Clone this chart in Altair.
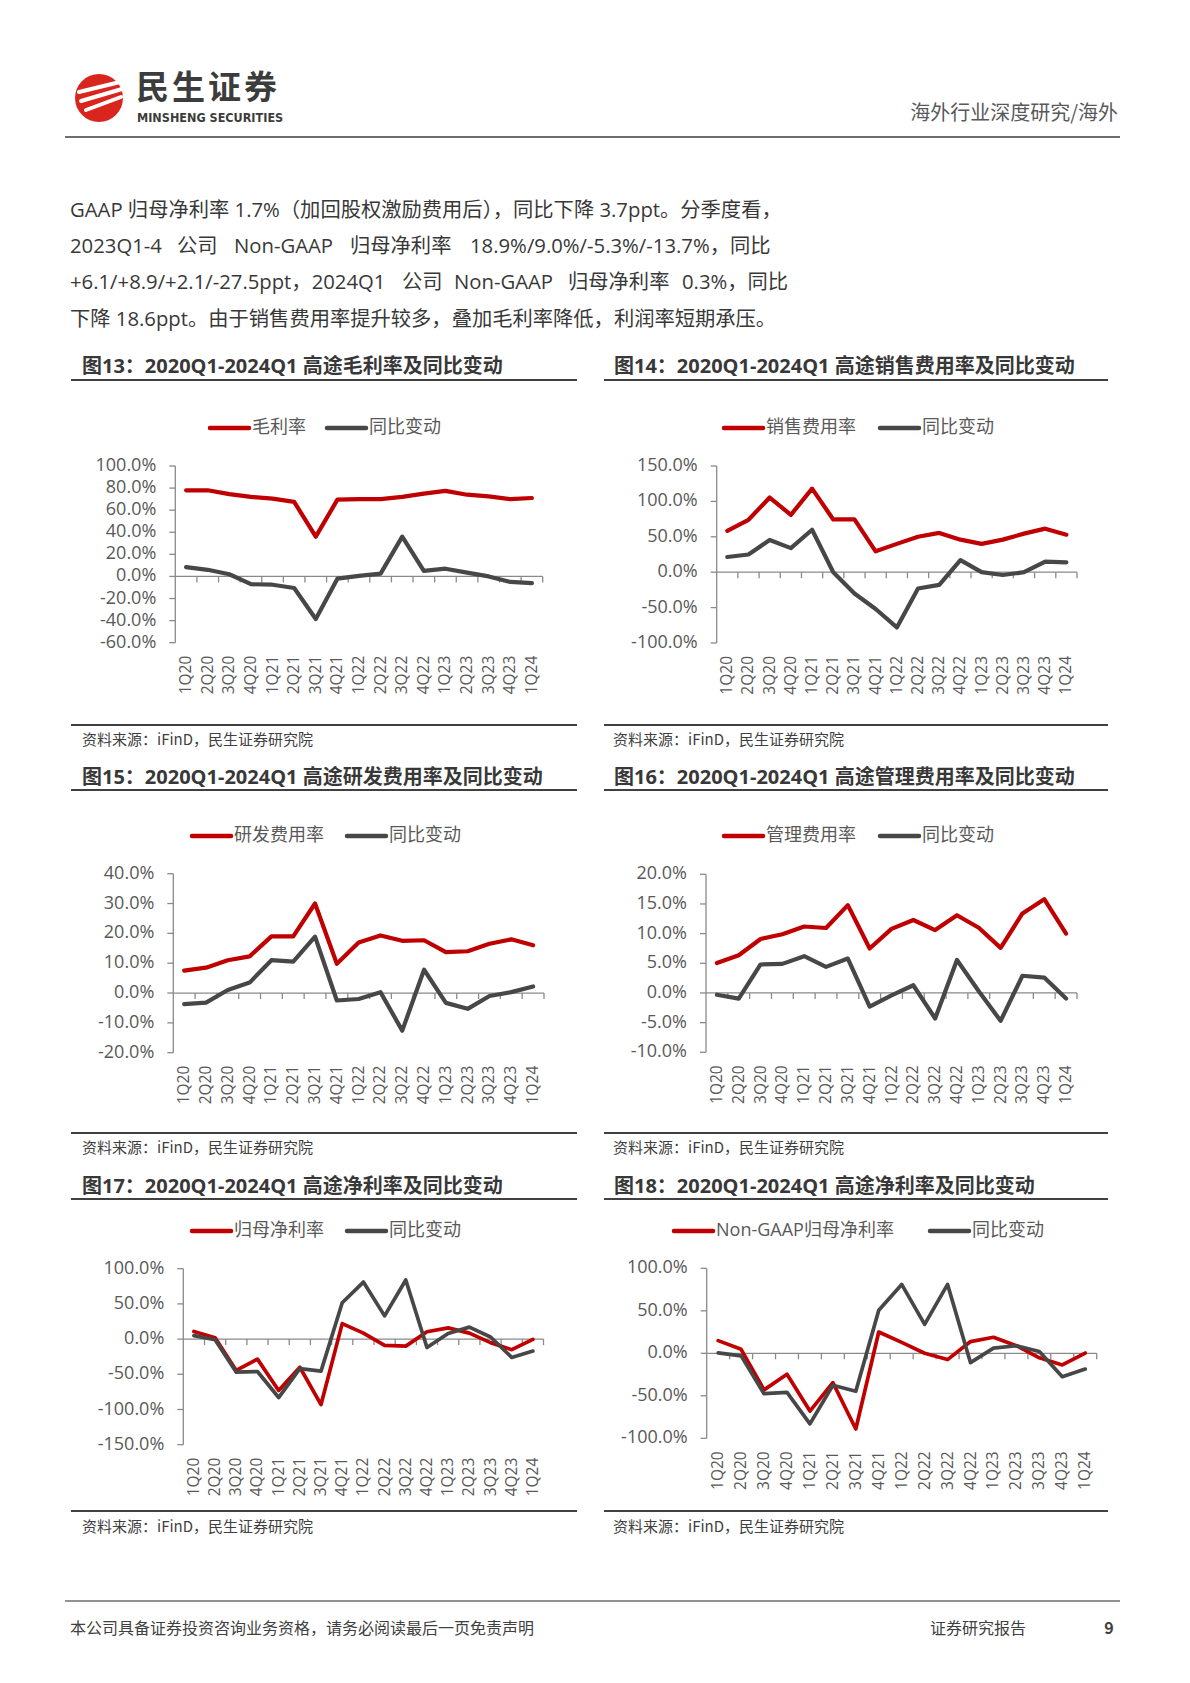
import altair as alt
import pandas as pd

OFF = 8  # page margin: chart pixel origin sits at page (8, 8)

quarters = ["1Q20", "2Q20", "3Q20", "4Q20", "1Q21", "2Q21", "3Q21", "4Q21", "1Q22",
            "2Q22", "3Q22", "4Q22", "1Q23", "2Q23", "3Q23", "4Q23", "1Q24"]

gross_margin = [78, 78, 74.5, 72, 70.5, 67.5, 36, 69.5, 70, 70, 72, 75, 77.5, 74, 72.5, 70, 71]
gross_margin_yoy = [8.5, 6, 2, -7, -7.5, -10.5, -38.5, -2, 0.5, 2.5, 36, 5, 7, 3.5, 0, -5, -6]

sales_rate = [58.5, 74, 105.5, 81, 118, 74.5, 74.5, 29.5, 40, 50, 55.5, 46, 40, 46, 54.5, 61.5, 53]
sales_yoy = [21.5, 25, 45.5, 34, 60, 0, -30, -52, -78, -23, -18, 17, 0, -4, 0, 15, 14]

rd_rate = [7.5, 8.5, 11, 12.3, 19, 19, 30, 9.8, 16.9, 19.3, 17.5, 17.7, 13.7, 14, 16.5, 18, 16]
rd_yoy = [-3.7, -3.2, 1, 3.5, 11, 10.5, 18.9, -2.5, -2, 0.3, -12.6, 7.8, -3.3, -5.3, -1, 0.3, 2.2]

admin_rate = [5.05, 6.35, 9.1, 9.9, 11.2, 10.95, 14.8, 7.5, 10.8, 12.3, 10.6, 13.1, 11, 7.6, 13.4, 15.8, 10]
admin_yoy = [-0.3, -0.95, 4.8, 4.9, 6.2, 4.4, 5.8, -2.3, -0.4, 1.3, -4.3, 5.55, 0.3, -4.7, 2.9, 2.6, -0.95]

net_rate = [10.9, 2, -44.5, -28.4, -73, -40, -93, 22, 8.5, -9, -10, 10.5, 16, 8.5, -5, -15, -0.5]
net_yoy = [5, -1, -47, -46, -83, -42, -45.5, 51.7, 81, 33, 84, -12, 8, 17, 3, -26, -17]

ng_rate = [14.9, 4.7, -43, -24.7, -68, -34.5, -89, 25, 12.8, 0.1, -7.4, 13.8, 18.9, 9.0, -5.3, -13.7, 0.3]
ng_yoy = [0.5, -3, -47.5, -46, -83, -37.6, -44.7, 50.6, 81, 34, 81, -11, 6.1, 8.9, 2.1, -27.5, -18.6]

ticks13 = [-60, -40, -20, 0, 20, 40, 60, 80, 100]
ticks14 = [-100, -50, 0, 50, 100, 150]
ticks15 = [-20, -10, 0, 10, 20, 30, 40]
ticks16 = [-10, -5, 0, 5, 10, 15, 20]
ticks17 = [-150, -100, -50, 0, 50, 100]
ticks18 = [-100, -50, 0, 50, 100]

RED = "#C00000"
GRAY = "#474747"
AX = "#8a8a8a"
LAB = "#595959"
DARK = "#383838"
FONT = "'Open Sans', 'Noto Sans CJK SC', sans-serif"
CJK = "'Noto Sans CJK SC', sans-serif"


def P(v):
    return v - OFF


def panel(main, yoy, ticks, box, sw):
    x0, x1, yt, yb = [P(v) for v in box]
    dom = [ticks[0], ticks[-1]]
    xs = alt.Scale(domain=[-0.5, len(quarters) - 0.5], range=[x0, x1], nice=False, zero=False)
    ys = alt.Scale(domain=dom, range=[yb, yt], nice=False, zero=False)
    df = pd.DataFrame({"i": list(range(len(quarters))), "q": quarters, "a": main, "b": yoy})
    tdf = pd.DataFrame({"t": ticks, "lab": [f"{t:.1f}%" for t in ticks]})
    zdf = pd.DataFrame({"z": [0]})
    bdf = pd.DataFrame({"bnd": [k + 0.5 for k in range(len(quarters))], "z": 0})

    yaxis = alt.Chart(zdf).mark_rule(color=AX, strokeWidth=1.3).encode(
        x=alt.value(x0), y=alt.value(yt), y2=alt.value(yb))
    ytk = alt.Chart(tdf).mark_rule(color=AX, strokeWidth=1.3).encode(
        x=alt.value(x0 - 6), x2=alt.value(x0), y=alt.Y("t:Q", scale=ys, axis=None))
    ylab = alt.Chart(tdf).mark_text(align="right", baseline="middle", font=FONT,
                                    fontSize=18, color=LAB).encode(
        x=alt.value(x0 - 19), y=alt.Y("t:Q", scale=ys, axis=None), text="lab:N")
    zero = alt.Chart(zdf).mark_rule(color=AX, strokeWidth=1.3).encode(
        x=alt.value(x0), x2=alt.value(x1), y=alt.Y("z:Q", scale=ys, axis=None))
    xtk = alt.Chart(bdf).mark_rule(color=AX, strokeWidth=1.3, y2Offset=6).encode(
        x=alt.X("bnd:Q", scale=xs, axis=None), y=alt.Y("z:Q", scale=ys, axis=None),
        y2=alt.Y2("z:Q"))
    xlab = alt.Chart(df).mark_text(angle=270, align="right", baseline="middle", font=FONT,
                                   fontSize=15.5, color=LAB).encode(
        x=alt.X("i:Q", scale=xs, axis=None), y=alt.value(yb + 13), text="q:N")
    la = alt.Chart(df).mark_line(color=RED, strokeWidth=sw, strokeJoin="round",
                                 strokeCap="round").encode(
        x=alt.X("i:Q", scale=xs, axis=None), y=alt.Y("a:Q", scale=ys, axis=None))
    lb = alt.Chart(df).mark_line(color=GRAY, strokeWidth=sw, strokeJoin="round",
                                 strokeCap="round").encode(
        x=alt.X("i:Q", scale=xs, axis=None), y=alt.Y("b:Q", scale=ys, axis=None))
    return alt.layer(yaxis, ytk, ylab, zero, xtk, xlab, la, lb)


panels = [
    panel(gross_margin, gross_margin_yoy, ticks13, (175.3, 542.7, 466, 642.7), 4.2),
    panel(sales_rate, sales_yoy, ticks14, (716.7, 1077, 466, 643), 4.2),
    panel(rd_rate, rd_yoy, ticks15, (173.3, 544, 873.7, 1052.7), 4.2),
    panel(admin_rate, admin_yoy, ticks16, (706, 1077, 874.3, 1052.3), 4.2),
    panel(net_rate, net_yoy, ticks17, (183.3, 543.5, 1268.7, 1444.7), 3.7),
    panel(ng_rate, ng_yoy, ticks18, (706.7, 1096.7, 1268.3, 1438.3), 3.7),
]


# ---------- page decorations (pixel layout) ----------
def text_layer(rows, size, color, font=FONT, weight="normal", align="left"):
    df = pd.DataFrame([{"x": P(x), "y": P(y), "text": t} for x, y, t in rows])
    return alt.Chart(df).mark_text(align=align, baseline="middle", font=font, fontSize=size,
                                   color=color, fontWeight=weight).encode(
        x=alt.X("x:Q", scale=None), y=alt.Y("y:Q", scale=None), text="text:N")


def rule_layer(rows, cap="butt"):
    df = pd.DataFrame([{"x": P(a), "x2": P(b), "y": P(c), "y2": P(d), "c": col, "w": w}
                       for a, b, c, d, col, w in rows])
    return alt.Chart(df).mark_rule(strokeCap=cap).encode(
        x=alt.X("x:Q", scale=None), x2="x2:Q", y=alt.Y("y:Q", scale=None), y2="y2:Q",
        color=alt.Color("c:N", scale=None), strokeWidth=alt.StrokeWidth("w:Q", scale=None))


# logo
logo_circle = alt.Chart(pd.DataFrame({"x": [P(99)], "y": [P(98)]})).mark_circle(
    size=2300, color="#D8261E", opacity=1).encode(
    x=alt.X("x:Q", scale=None), y=alt.Y("y:Q", scale=None))
logo_strokes = rule_layer([
    (79, 120, 92, 82, "white", 4),
    (81, 122, 101, 89, "white", 4),
    (86, 121, 110, 97, "white", 4),
], cap="round")

header_cn = text_layer([(136, 89, "民"), (172, 89, "生"), (208, 89, "证"),
                        (244, 89, "券")], 33, "#3c3c3c", font=CJK, weight="bold")
header_en = text_layer([(137, 118, "MINSHENG SECURITIES")], 12.5, "#3c3c3c",
                       font="'Liberation Sans Narrow', 'DejaVu Sans Condensed', sans-serif",
                       weight="bold")
header_right = text_layer([(1118, 114, "海外行业深度研究/海外")], 20, LAB, font=CJK, align="right")

BODY = 20.3
body = text_layer([
    (70, 210.5, "GAAP 归母净利率 1.7%（加回股权激励费用后），同比下降 3.7ppt。分季度看，"),
    (70, 246.5, "2023Q1-4"), (177, 246.5, "公司"), (234, 246.5, "Non-GAAP"),
    (350, 246.5, "归母净利率"), (470, 246.5, "18.9%/9.0%/-5.3%/-13.7%，同比"),
    (70, 283, "+6.1/+8.9/+2.1/-27.5ppt，2024Q1"), (402, 283, "公司"),
    (454, 283, "Non-GAAP"), (568, 283, "归母净利率"), (682, 283, "0.3%，同比"),
    (70, 319.5, "下降 18.6ppt。由于销售费用率提升较多，叠加毛利率降低，利润率短期承压。"),
], BODY, DARK)

titles = text_layer([
    (82, 367, "图13：2020Q1-2024Q1 高途毛利率及同比变动"),
    (614, 367, "图14：2020Q1-2024Q1 高途销售费用率及同比变动"),
    (82, 778, "图15：2020Q1-2024Q1 高途研发费用率及同比变动"),
    (614, 778, "图16：2020Q1-2024Q1 高途管理费用率及同比变动"),
    (82, 1187, "图17：2020Q1-2024Q1 高途净利率及同比变动"),
    (614, 1187, "图18：2020Q1-2024Q1 高途净利率及同比变动"),
], 20, DARK, weight="bold")

src = "资料来源：iFinD，民生证券研究院"
sources = text_layer([
    (82, 740, src), (613, 740, src),
    (82, 1148, src), (613, 1148, src),
    (82, 1527, src), (613, 1527, src),
], 15, "#404040", font=CJK)

# legends: (red start, gray start, y, main label)
legends = [
    (210, 327, 428, "毛利率"),
    (724, 880, 428, "销售费用率"),
    (192, 347, 836, "研发费用率"),
    (724, 880, 836, "管理费用率"),
    (192, 347, 1231, "归母净利率"),
    (674, 930, 1231, "Non-GAAP归母净利率"),
]
leg_rules = rule_layer(
    [(a, a + 39, y, y, RED, 4.5) for a, b, y, _ in legends]
    + [(b, b + 39, y, y, GRAY, 4.5) for a, b, y, _ in legends], cap="round")
leg_text = text_layer(
    [(a + 42, y, t) for a, b, y, t in legends]
    + [(b + 42, y, "同比变动") for a, b, y, _ in legends], 18, LAB)

rules = rule_layer([
    (65, 1120, 137, 137, "#6e6e6e", 2),
    (71, 577, 380, 380, "#404040", 2), (604, 1108, 380, 380, "#404040", 2),
    (71, 577, 725, 725, "#404040", 2), (604, 1108, 725, 725, "#404040", 2),
    (71, 577, 790, 790, "#404040", 2), (604, 1108, 790, 790, "#404040", 2),
    (71, 577, 1133, 1133, "#404040", 2), (604, 1108, 1133, 1133, "#404040", 2),
    (71, 577, 1199, 1199, "#404040", 2), (604, 1108, 1199, 1199, "#404040", 2),
    (71, 577, 1511, 1511, "#404040", 2), (604, 1108, 1511, 1511, "#404040", 2),
    (65, 1120, 1601, 1601, "#6e6e6e", 1.5),
])

footer = text_layer([
    (70, 1629, "本公司具备证券投资咨询业务资格，请务必阅读最后一页免责声明"),
    (930, 1629, "证券研究报告"),
], 16, "#404040", font=CJK)
footer_num = text_layer([(1109, 1629, "9")], 16, "#404040", font=CJK, weight="bold",
                        align="center")

chart = alt.layer(
    rules, logo_circle, logo_strokes, header_cn, header_en, header_right, body,
    titles, sources, leg_rules, leg_text, footer, footer_num, *panels
).resolve_scale(x="independent", y="independent").properties(
    width=1170, height=1650, padding=0,
    autosize=alt.AutoSizeParams(type="none"),
).configure_view(stroke=None)

chart.save("out.html", embed_options={"renderer": "svg", "actions": False})
